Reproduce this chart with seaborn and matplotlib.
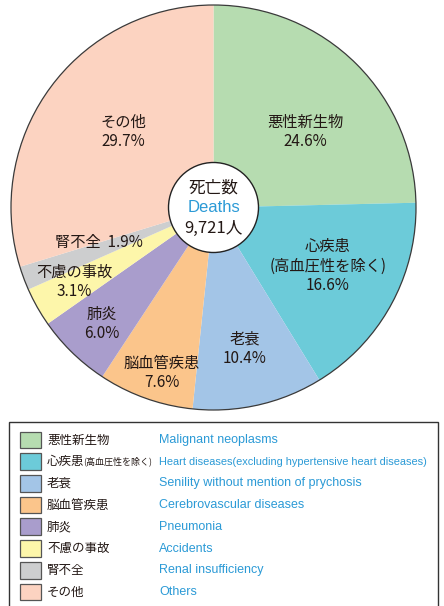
import matplotlib
matplotlib.use("Agg")
import matplotlib.pyplot as plt
import seaborn as sns
from matplotlib.patches import Circle, Rectangle

# ---- data ----
categories_jp = ["悪性新生物", "心疾患", "老衰", "脳血管疾患", "肺炎", "不慮の事故", "腎不全", "その他"]
categories_en = ["Malignant neoplasms",
                 "Heart diseases(excluding hypertensive heart diseases)",
                 "Senility without mention of prychosis",
                 "Cerebrovascular diseases",
                 "Pneumonia",
                 "Accidents",
                 "Renal insufficiency",
                 "Others"]
shares = [24.6, 16.6, 10.4, 7.6, 6.0, 3.1, 1.9, 29.7]
pie_labels = ["悪性新生物\n24.6%", "心疾患\n(高血圧性を除く)\n16.6%", "老衰\n10.4%",
              "脳血管疾患\n7.6%", "肺炎\n6.0%", "不慮の事故\n3.1%", "腎不全  1.9%", "その他\n29.7%"]
heart_note = "(高血圧性を除く)"
total_label = "9,721人"

# ---- style ----
sns.set_theme(style="white")
plt.rcParams["font.family"] = ["Noto Sans CJK JP", "DejaVu Sans"]
colors = sns.color_palette(["#b6dcb0", "#6ccbd9", "#a3c5e7", "#fbc58b",
                            "#a99dcc", "#fdf6aa", "#cdcecf", "#fcd3c1"])
TXT = "#231815"
BLUE = "#2b9ad6"

W, H = 444, 606
fig = plt.figure(figsize=(W / 100, H / 100), dpi=100)
ax = fig.add_axes([0, 0, 1, 1])

cx, cy, r = 213.5, H - 207.5, 202.5
ax.pie(shares, colors=colors, startangle=90, counterclock=False,
       center=(cx, cy), radius=r, wedgeprops=dict(linewidth=0))
ax.add_patch(Circle((cx, cy), r, fill=False, edgecolor="#3a3a3a", lw=0.9))
ax.add_patch(Circle((cx, cy), 45, facecolor="white", edgecolor="#222222", lw=1.0, zorder=5))
ax.set_xlim(0, W)
ax.set_ylim(0, H)
ax.set_aspect("equal")
ax.axis("off")

# labels on slices (pixel positions, y from top)
label_pos = [(305, 132), (328, 266), (245, 349), (162, 373), (102, 324), (74, 282), (99, 243), (123, 132)]
for (px, py), lab in zip(label_pos, pie_labels):
    ax.text(px, H - py, lab, ha="center", va="center", fontsize=11, color=TXT,
            linespacing=1.2, zorder=6)

# center text
ax.text(cx, H - 188, "死亡数", ha="center", va="center", fontsize=12, color=TXT, zorder=6)
ax.text(cx, H - 208, "Deaths", ha="center", va="center", fontsize=12, color=BLUE,
        family=["Liberation Sans"], zorder=6)
ax.text(cx, H - 228, total_label, ha="center", va="center", fontsize=12, color=TXT, zorder=6)

# legend box
ax.add_patch(Rectangle((9, -10), 429, H - 422 + 10, fill=False, edgecolor="#333333", lw=1.0))
row0, step = 440, 21.7
for i, (jp, en, c) in enumerate(zip(categories_jp, categories_en, colors)):
    y = H - (row0 + i * step)
    ax.add_patch(Rectangle((20, y - 8.3), 21, 16.6, facecolor=c, edgecolor="#555555", lw=0.9))
    ax.text(47, y, jp, ha="left", va="center", fontsize=9, color=TXT)
    en_size = 9
    if i == 1:
        ax.text(83, y, heart_note, ha="left", va="center", fontsize=6.5, color=TXT)
        en_size = 7.9
    ax.text(159, y, en, ha="left", va="center", fontsize=en_size, color=BLUE,
            family=["Liberation Sans"])

fig.savefig("out.png", dpi=100)
